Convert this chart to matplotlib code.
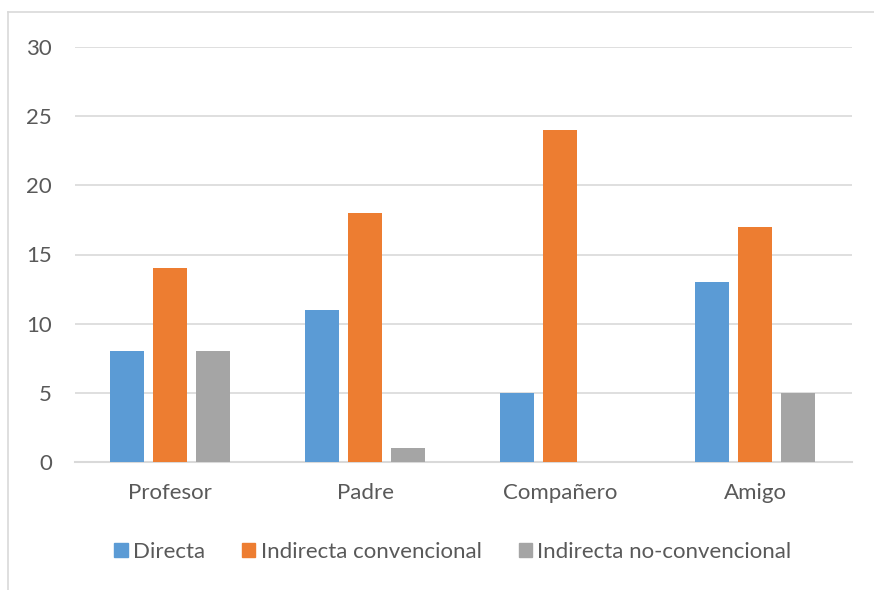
import matplotlib
matplotlib.use("Agg")
import matplotlib.pyplot as plt
import numpy as np
from matplotlib.lines import Line2D
from matplotlib.patches import Patch

categories = ["Profesor", "Padre", "Compañero", "Amigo"]
series_names = ["Directa", "Indirecta convencional", "Indirecta no-convencional"]
directa = [8, 11, 5, 13]
indirecta_conv = [14, 18, 24, 17]
indirecta_noconv = [8, 1, 0, 5]
yticks = [0, 5, 10, 15, 20, 25, 30]

colors = ["#5B9BD5", "#ED7D31", "#A5A5A5"]
txt = "#595959"
plt.rcParams['font.family'] = ['Lato', 'DejaVu Sans']

fig = plt.figure(figsize=(8.74, 5.90), dpi=100)
ax = fig.add_axes([75/874, 1-462/590, (852-75)/874, (462-47)/590])

x = np.arange(len(categories))
w = 0.175
off = 0.222
for i, vals in enumerate([directa, indirecta_conv, indirecta_noconv]):
    ax.bar(x + (i-1)*off, vals, width=w, color=colors[i], label=series_names[i], zorder=3)

ax.set_xlim(-0.487, 3.497)
ax.set_ylim(0, 30)
ax.set_yticks(yticks)
ax.set_xticks(x)
ax.set_xticklabels(categories)
ax.grid(axis='y', color='#D9D9D9', linewidth=1.2, zorder=0)
for s in ['top', 'right', 'left']:
    ax.spines[s].set_visible(False)
ax.spines['bottom'].set_color('#D9D9D9')
ax.spines['bottom'].set_linewidth(1.5)
ax.tick_params(axis='both', length=0, labelsize=16, labelcolor=txt)
ax.tick_params(axis='y', pad=16.5)
ax.tick_params(axis='x', pad=15)

handles = [Patch(color=c) for c in colors]
fig.legend(handles, series_names, loc='center', bbox_to_anchor=(453/874, 1-552/590),
           ncol=3, frameon=False, fontsize=16, labelcolor=txt,
           handlelength=0.6, handleheight=0.6, handletextpad=0.25, columnspacing=1.65)

# outer chart border (partially visible)
fig.add_artist(Line2D([8/874, 8/874], [0, 1-12/590], transform=fig.transFigure, color='#D9D9D9', lw=1.2))
fig.add_artist(Line2D([8/874, 1], [1-12/590, 1-12/590], transform=fig.transFigure, color='#D9D9D9', lw=1.2))

fig.savefig("out.png", dpi=100)
